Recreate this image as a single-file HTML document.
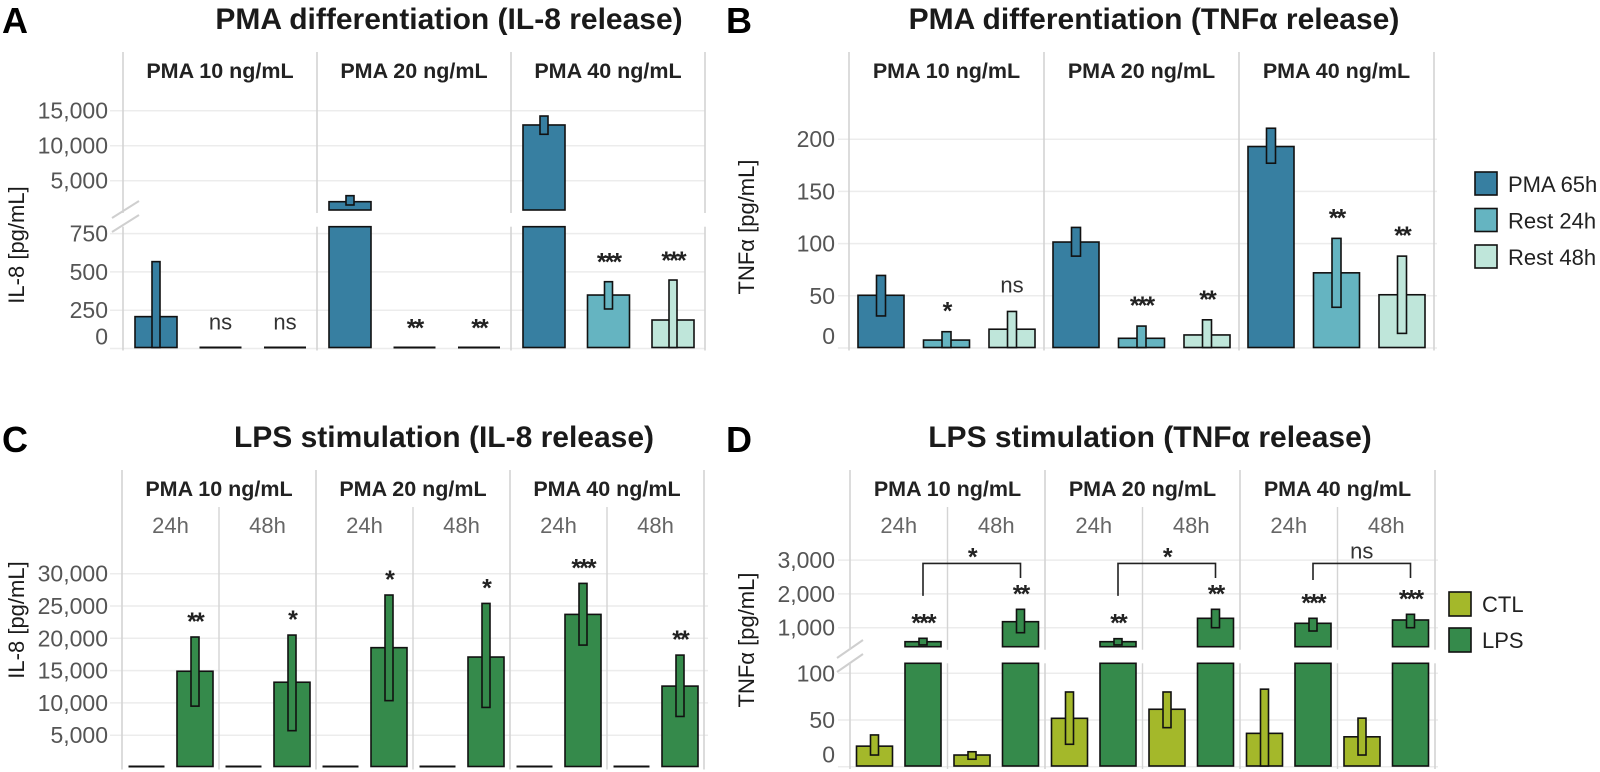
<!DOCTYPE html>
<html><head><meta charset="utf-8"><style>
html,body{margin:0;padding:0;background:#fff;}
svg{display:block;font-family:"Liberation Sans",Arial,sans-serif;}
</style></head><body>
<svg id="fig" width="1600" height="772" viewBox="0 0 1600 772" xmlns="http://www.w3.org/2000/svg"></svg>
<script>
// ---------- Panel A data (IL-8, PMA differentiation) ----------
const groupsAB = ['PMA 10 ng/mL','PMA 20 ng/mL','PMA 40 ng/mL'];
const seriesAB = ['PMA 65h','Rest 24h','Rest 48h'];
const aVal65 = [208, 2000, 12960];
const aLo65  = [0, 1530, 11630];
const aHi65  = [567, 2860, 14240];
const aVal24 = [0, 0, 349];
const aLo24  = [0, 0, 258];
const aHi24  = [0, 0, 436];
const aVal48 = [0, 0, 186];
const aLo48  = [0, 0, 0];
const aHi48  = [0, 0, 447];
const aSig24 = ['ns','**','***'];
const aSig48 = ['ns','**','***'];
const aTicksUpper = [5000, 10000, 15000];
const aTicksLower = [0, 250, 500, 750];
// ---------- Panel B data (TNFa, PMA differentiation) ----------
const bVal65 = [50.5, 101.5, 193];
const bLo65  = [30.7, 88, 177];
const bHi65  = [69.5, 115.5, 210.5];
const bVal24 = [7.6, 9.3, 72];
const bLo24  = [0, 0, 39];
const bHi24  = [15.6, 21, 105];
const bVal48 = [18, 12.5, 51];
const bLo48  = [0, 0, 14];
const bHi48  = [35, 27, 88];
const bSig24 = ['*','***','**'];
const bSig48 = ['ns','**','**'];
const bTicks = [0, 50, 100, 150, 200];
// ---------- Panel C data (IL-8, LPS) ----------
const timesCD = ['24h','48h'];
const cCtlVal = [0,0,0,0,0,0];
const cCtlLo  = [0,0,0,0,0,0];
const cCtlHi  = [0,0,0,0,0,0];
const cLpsVal = [14900, 13200, 18550, 17100, 23700, 12600];
const cLpsLo  = [9500, 5700, 10350, 9300, 18950, 7900];
const cLpsHi  = [20200, 20500, 26700, 25400, 28500, 17400];
const cSig    = ['**','*','*','*','***','**'];
const cTicks  = [5000, 10000, 15000, 20000, 25000, 30000];
// ---------- Panel D data (TNFa, LPS) ----------
const dCtlVal = [22, 12.5, 51.8, 61.5, 35.7, 32];
const dCtlLo  = [12.5, 8, 24, 41.8, 0, 12.5];
const dCtlHi  = [34, 16, 80, 80, 83, 52];
const dLpsVal = [586, 1178, 586, 1278, 1130, 1228];
const dLpsLo  = [490, 852, 490, 1000, 902, 1000];
const dLpsHi  = [686, 1544, 675, 1544, 1278, 1396];
const dSig    = ['***','**','**','**','***','***'];
const dBracketSig = ['*','*','ns'];
const dBracketTop = [2900, 2900, 2900];
const dBracketLegL = [1940, 1940, 2410];
const dBracketLegR = [2470, 2470, 2470];
const dTicksUpper = [1000, 2000, 3000];
const dTicksLower = [0, 50, 100];

const NS='http://www.w3.org/2000/svg';
const svg=document.getElementById('fig');
function mk(tag, attrs, parent){
  const e=document.createElementNS(NS,tag);
  for(const k in attrs) e.setAttribute(k, attrs[k]);
  (parent||svg).appendChild(e);
  return e;
}
const COL={p65:'#377fa1',r24:'#65b4c1',r48:'#bfe6da',ctl:'#a4b82a',lps:'#358a4b'};

function segMinV(s){return (s.y0 - s.bottom)/s.k;}
function segMaxV(s){return (s.y0 - s.top)/s.k;}
function clampY(s,v){let y=s.y0-v*s.k; return Math.max(s.top, Math.min(s.bottom, y));}
function yOf(segs,v){
  for(const s of segs){ if(v>=segMinV(s)-1e-9 && v<=segMaxV(s)) return s.y0-v*s.k; }
  return clampY(segs[segs.length-1],v);
}
function drawRect(segs, v1, v2, x, w, fill, name){
  if(v2<=v1){
    const y=yOf(segs,v2);
    const l=mk('line',{x1:x,x2:x+w,y1:y,y2:y,stroke:'#111','stroke-width':2});
    
    
    return;
  }
  segs.forEach(s=>{
    const minV = s.isBase ? -Infinity : segMinV(s);
    if(v2<=minV || v1>=segMaxV(s)) return;
    const ya=clampY(s,v1), yb=clampY(s,v2);
    if(ya-yb<=0.1) return;
    const r=mk('rect',{x:x,y:yb,width:w,height:ya-yb,fill:fill,stroke:'#111','stroke-width':1.6});
    
    
  });
}
function txt(x,y,s,opt){
  const t=mk('text',Object.assign({x:x,y:y},opt||{}));
  t.textContent=s; return t;
}
function sigText(x,yc,s,name){
  let t;
  if(s==='ns') t=txt(x,yc+7,s,{'text-anchor':'middle','font-size':22,fill:'#333'});
  else t=txt(x,yc+14,s,{'text-anchor':'middle','font-size':25,'font-weight':'bold',fill:'#222','letter-spacing':'-2'});
  
  
}
function panelTitle(letter,lx,ly,title,tx,ty,name){
  const a=txt(lx,ly,letter,{'font-size':36,'font-weight':'bold',fill:'#000'});
  
  
  const t=txt(tx,ty,title,{'font-size':30,'font-weight':'bold',fill:'#1a1a1a','text-anchor':'middle'});
  
  
}
function yTitle(x,y,s,name){
  const t=txt(x,y,s,{'font-size':22,fill:'#1a1a1a','text-anchor':'middle',transform:`rotate(-90 ${x} ${y})`});
  
  
}
function grid(segs,ticks,x1,x2,lx,name){
  ticks.forEach(v=>{
    const s=segs.find(s=>v>=(s.isBase?-1:segMinV(s))&&v<=segMaxV(s)+1e-9);
    const y=s.y0-v*s.k;
    const g=mk('line',{x1:x1,x2:x2,y1:y,y2:y,stroke:'#ececec','stroke-width':1.5});
    
    
    const t=txt(lx,(v===0?y-12:y)+8,v.toLocaleString('en-US'),{'font-size':23,fill:'#555','text-anchor':'end'});
    
    
  });
}
function vlines(xs,segs,top,name){
  xs.forEach(x=>{
    segs.forEach((s,i)=>{
      const y1 = (i===0)?top:s.top;
      const l=mk('line',{x1:x,x2:x,y1:y1,y2:s.bottom+3,stroke:'#d4d4d4','stroke-width':1.6});
      
      
    });
  });
}
function breakMark(x1,y1,x2,y2,dy,name){
  [0,dy].forEach(d=>{
    const l=mk('line',{x1:x1,y1:y1+d,x2:x2,y2:y2+d,stroke:'#cfcfcf','stroke-width':2});
    
    
  });
}

// ================= PANEL A =================
(function(){
  const segs=[{y0:215.7,k:0.007,top:52,bottom:210},{y0:348.5,k:38.3/250,top:226.7,bottom:347.5,isBase:true}];
  const x0=123, gw=194, bw=42, ew=8;
  panelTitle('A',2,33,'PMA differentiation (IL-8 release)',449,29,'panel-a');
  grid([segs[0]],aTicksUpper,110,705,108,'a-upper');
  grid([segs[1]],aTicksLower,110,705,108,'a-lower');
  vlines([x0,x0+gw,x0+2*gw,x0+3*gw],segs,52,'a-facet-separator');
  breakMark(112,218,139,201,14,'a-axis-break');
  yTitle(24,245,'IL-8 [pg/mL]','a-y-axis-title');
  const vals=[aVal65,aVal24,aVal48],los=[aLo65,aLo24,aLo48],his=[aHi65,aHi24,aHi48],cols=[COL.p65,COL.r24,COL.r48];
  const sigs=[null,aSig24,aSig48];
  groupsAB.forEach((g,gi)=>{
    const h=txt(x0+gi*gw+gw/2,78,g,{'font-size':21.5,'font-weight':'bold',fill:'#222','text-anchor':'middle'});
    
    
    for(let si=0;si<3;si++){
      const cx=x0+gi*gw+33+si*64.5;
      drawRect(segs,0,vals[si][gi],cx-bw/2,bw,cols[si],'a-bar');
      if(his[si][gi]>los[si][gi]) drawRect(segs,los[si][gi],his[si][gi],cx-ew/2,ew,cols[si],'a-error-bar');
      if(sigs[si]) sigText(cx,yOf(segs,his[si][gi])-25,sigs[si][gi],'a-significance');
    }
  });
})();

// ================= PANEL B =================
(function(){
  const segs=[{y0:348,k:52.2/50,top:52,bottom:347.5,isBase:true}];
  const x0=849, gw=195, bw=46, ew=9;
  panelTitle('B',726,33,'PMA differentiation (TNFα release)',1154,29,'panel-b');
  grid(segs,bTicks,838,1437,835,'b');
  vlines([x0,x0+gw,x0+2*gw,x0+3*gw],segs,52,'b-facet-separator');
  yTitle(754,227,'TNFα [pg/mL]','b-y-axis-title');
  const vals=[bVal65,bVal24,bVal48],los=[bLo65,bLo24,bLo48],his=[bHi65,bHi24,bHi48],cols=[COL.p65,COL.r24,COL.r48];
  const sigs=[null,bSig24,bSig48];
  groupsAB.forEach((g,gi)=>{
    const h=txt(x0+gi*gw+gw/2,78,g,{'font-size':21.5,'font-weight':'bold',fill:'#222','text-anchor':'middle'});
    
    
    for(let si=0;si<3;si++){
      const cx=x0+gi*gw+32+si*65.5;
      drawRect(segs,0,vals[si][gi],cx-bw/2,bw,cols[si],'b-bar');
      if(his[si][gi]>los[si][gi]) drawRect(segs,los[si][gi],his[si][gi],cx-ew/2,ew,cols[si],'b-error-bar');
      if(sigs[si]) sigText(cx,yOf(segs,his[si][gi])-26,sigs[si][gi],'b-significance');
    }
  });
  const lc=[COL.p65,COL.r24,COL.r48];
  seriesAB.forEach((s,i)=>{
    const y=172+i*36.5;
    const r=mk('rect',{x:1475,y:y,width:22,height:23,fill:lc[i],stroke:'#111','stroke-width':1.6});
    
    
    const t=txt(1508,y+20,s,{'font-size':22,fill:'#222'});
    
    
  });
})();

function lpsPanel(p){
  const {segs,x0,gw,name}=p;
  const sw=gw/2, bw=36, ew=8;
  vlines([x0,x0+gw,x0+2*gw,x0+3*gw],segs,470,name+'-facet-separator');
  [0,1,2].forEach(gi=>{
    const x=x0+gi*gw+sw;
    segs.forEach((s,i)=>{
      const l=mk('line',{x1:x,x2:x,y1:i===0?507:s.top,y2:s.bottom+3,stroke:'#d4d4d4','stroke-width':1.4});
      
      
    });
    const h=txt(x0+gi*gw+gw/2,496,groupsAB[gi],{'font-size':21.5,'font-weight':'bold',fill:'#222','text-anchor':'middle'});
    
    
    timesCD.forEach((t,ti)=>{
      const e=txt(x0+gi*gw+ti*sw+sw/2,533,t,{'font-size':22,fill:'#666','text-anchor':'middle'});
      
      
    });
  });
  for(let i=0;i<6;i++){
    const sx=x0+i*sw;
    const c1=sx+24.5, c2=sx+73;
    drawRect(segs,0,p.ctlVal[i],c1-bw/2,bw,COL.ctl,name+'-bar-ctl');
    if(p.ctlHi[i]>p.ctlLo[i]) drawRect(segs,p.ctlLo[i],p.ctlHi[i],c1-ew/2,ew,COL.ctl,name+'-error-bar-ctl');
    drawRect(segs,0,p.lpsVal[i],c2-bw/2,bw,COL.lps,name+'-bar-lps');
    drawRect(segs,p.lpsLo[i],p.lpsHi[i],c2-ew/2,ew,COL.lps,name+'-error-bar-lps');
    sigText(c2,yOf(segs,p.lpsHi[i])-21,p.sig[i],name+'-significance');
  }
}

// ================= PANEL C =================
(function(){
  const segs=[{y0:767.5,k:32.3/5000,top:470,bottom:766.5,isBase:true}];
  panelTitle('C',2,452,'LPS stimulation (IL-8 release)',444,447,'panel-c');
  grid(segs,cTicks,110,708,108,'c');
  yTitle(24,620,'IL-8 [pg/mL]','c-y-axis-title');
  lpsPanel({segs,x0:122,gw:194,name:'c',ctlVal:cCtlVal,ctlLo:cCtlLo,ctlHi:cCtlHi,lpsVal:cLpsVal,lpsLo:cLpsLo,lpsHi:cLpsHi,sig:cSig});
})();

// ================= PANEL D =================
(function(){
  const segs=[{y0:661.5,k:0.0338,top:470,bottom:646.7},{y0:766.7,k:46.7/50,top:663.3,bottom:766,isBase:true}];
  const x0=850, gw=195;
  panelTitle('D',726,452,'LPS stimulation (TNFα release)',1150,447,'panel-d');
  grid([segs[0]],dTicksUpper,838,1438,835,'d-upper');
  grid([segs[1]],dTicksLower,838,1438,835,'d-lower');
  breakMark(837,658,863,640,14,'d-axis-break');
  yTitle(754,640,'TNFα [pg/mL]','d-y-axis-title');
  lpsPanel({segs,x0,gw,name:'d',ctlVal:dCtlVal,ctlLo:dCtlLo,ctlHi:dCtlHi,lpsVal:dLpsVal,lpsLo:dLpsLo,lpsHi:dLpsHi,sig:dSig});
  dBracketSig.forEach((s,gi)=>{
    const xl=x0+gi*gw+73, xr=x0+gi*gw+gw/2+73;
    const yt=yOf(segs,dBracketTop[gi]);
    const pth=mk('path',{d:`M${xl},${yOf(segs,dBracketLegL[gi])} V${yt} H${xr} V${yOf(segs,dBracketLegR[gi])}`,fill:'none',stroke:'#222','stroke-width':1.6});
    
    
    sigText((xl+xr)/2,yt-12,s,'d-bracket-significance');
  });
  ['CTL','LPS'].forEach((s,i)=>{
    const y=592+i*36;
    const r=mk('rect',{x:1449,y:y,width:22,height:24,fill:i?COL.lps:COL.ctl,stroke:'#111','stroke-width':1.6});
    
    
    const t=txt(1482,y+20,s,{'font-size':22,fill:'#222'});
    
    
  });
})();
</script>
</body></html>
